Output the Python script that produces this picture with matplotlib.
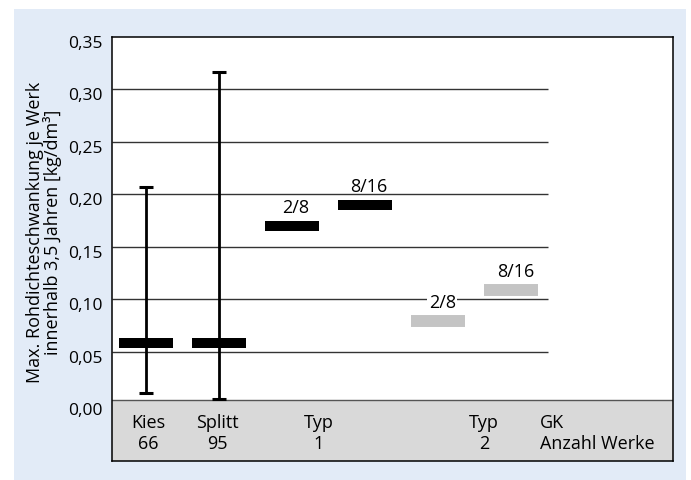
import matplotlib
matplotlib.use("Agg")
import matplotlib.pyplot as plt
from matplotlib.patches import Rectangle
import matplotlib.transforms as mtransforms

plt.rcParams['font.family'] = ['Open Sans', 'DejaVu Sans']
plt.rcParams['font.size'] = 13

# Data
groups = ["Kies", "Splitt", "Typ 1 2/8", "Typ 1 8/16", "Typ 2 2/8", "Typ 2 8/16"]
means = [0.058, 0.058, 0.170, 0.190, 0.079, 0.109]
upper = [0.207, 0.317, None, None, None, None]
lower = [0.011, 0.005, None, None, None, None]
bar_labels = ["", "", "2/8", "8/16", "2/8", "8/16"]
bar_colors = ["black", "black", "black", "black", "#c4c4c4", "#c4c4c4"]
bar_thick = [7.2, 7.2, 7.2, 7.2, 8.6, 8.6]

cat_row1 = ["Kies", "Splitt", "Typ", "Typ", "GK"]
cat_row2 = ["66", "95", "1", "2", "Anzahl Werke"]
cat_pos = [0.04, 0.98, 2.37, 4.63, 5.39]
cat_align = ["center", "center", "center", "center", "left"]

yticks = [0.0, 0.05, 0.10, 0.15, 0.20, 0.25, 0.30, 0.35]
ytick_labels = ["0,00", "0,05", "0,10", "0,15", "0,20", "0,25", "0,30", "0,35"]

fig = plt.figure(figsize=(6.91, 4.81), dpi=100, facecolor="white")
fig.patches.append(Rectangle((14 / 691, 0), (686 - 14) / 691, (481 - 10) / 481,
                             transform=fig.transFigure, facecolor="#e2ebf7",
                             edgecolor="none", zorder=-5))

ax = fig.add_axes([112 / 691, (481 - 462) / 481, (673 - 112) / 691, (462 - 38) / 481])
ax.set_zorder(2)
ax.set_facecolor("white")
ax.set_xlim(-0.461, 7.213)
ax.set_ylim(-0.0543, 0.35)

band_top = 0.0038
ax.add_patch(Rectangle((-1, -0.1), 10, 0.1 + band_top, facecolor="#d9d9d9",
                       edgecolor="none", zorder=1))
ax.axhline(band_top, color="#555555", lw=1.0, zorder=2)

# gridlines stop short of the right-hand label area
ax.hlines(yticks[1:-1], -0.461, 5.5, color="#333333", lw=1.0, zorder=2)

x = list(range(len(groups)))
for xi, m, hi, lo in zip(x, means, upper, lower):
    if hi is not None:
        ax.errorbar([xi], [m], yerr=[[m - lo], [hi - m]], fmt="none",
                    ecolor="black", elinewidth=2.0, capsize=5, capthick=2.2,
                    zorder=3)

for xi, m, c, t in zip(x, means, bar_colors, bar_thick):
    ax.hlines(m, xi - 0.37, xi + 0.37, color=c, lw=t, capstyle="butt", zorder=4)

for xi, m, lab, c in zip(x, means, bar_labels, bar_colors):
    if lab:
        box = None
        if c != "black":
            box = dict(facecolor="white", edgecolor="none", pad=1.0)
        ax.annotate(lab, (xi, m), xytext=(3, 13.7), textcoords="offset points",
                    ha="center", va="center", fontsize=13, zorder=5, bbox=box)

for p, r1, r2, al in zip(cat_pos, cat_row1, cat_row2, cat_align):
    ax.text(p, -0.0170, r1, ha=al, va="center", fontsize=13, zorder=5)
    ax.text(p, -0.0372, r2, ha=al, va="center", fontsize=13, zorder=5)

ax.set_yticks(yticks)
ax.set_yticklabels(ytick_labels)
ax.set_xticks([])
ax.tick_params(axis="y", length=0, pad=6.5, labelsize=12.5)
shift = mtransforms.ScaledTranslation(0, -4 / 100, fig.dpi_scale_trans)
for lbl in ax.get_yticklabels():
    lbl.set_transform(lbl.get_transform() + shift)

for s in ax.spines.values():
    s.set_color("black")
    s.set_linewidth(1.1)
    s.set_zorder(6)

fig.text(44 / 691, (481 - 232) / 481,
         "Max. Rohdichteschwankung je Werk\ninnerhalb 3,5 Jahren [kg/dm³]",
         rotation=90, ha="center", va="center", multialignment="center",
         fontsize=13, linespacing=0.95)

fig.savefig("out.png", dpi=100, facecolor="white")
